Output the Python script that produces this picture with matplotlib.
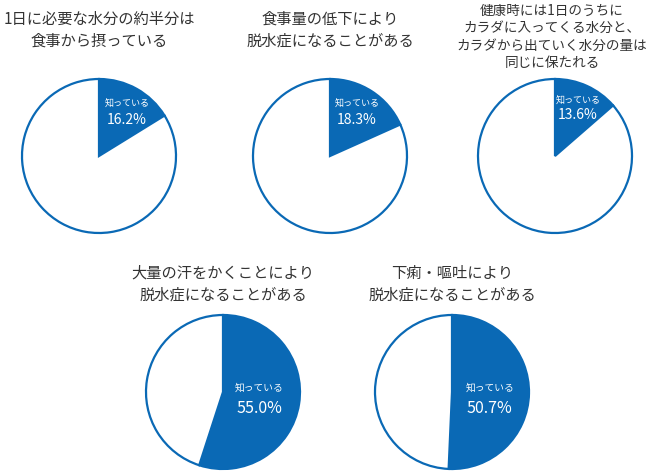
import matplotlib
matplotlib.use('Agg')
import matplotlib.pyplot as plt

plt.rcParams['font.family'] = ['Noto Sans CJK JP', 'DejaVu Sans']

titles = [
    '1日に必要な水分の約半分は\n食事から摂っている',
    '食事量の低下により\n脱水症になることがある',
    '健康時には1日のうちに\nカラダに入ってくる水分と、\nカラダから出ていく水分の量は\n同じに保たれる',
    '大量の汗をかくことにより\n脱水症になることがある',
    '下痢・嘔吐により\n脱水症になることがある',
]
known = [16.2, 18.3, 13.6, 55.0, 50.7]
wedge_label = '知っている'

BLUE = '#0a69b5'
W, H = 651, 475
R = 77
# pie centres (px), title anchor (px), title font size, label offset in pie units
centres = [(99, 156), (330, 156), (555, 156), (223, 392), (452, 392)]
title_pos = [(99, 30), (330, 30), (552, 37), (223, 284), (452, 284)]
title_size = [11, 11, 9.8, 11, 11]
title_spacing = [1.35, 1.35, 1.3, 1.35, 1.35]
label_off = [(0.36, 0.67, 0.47), (0.35, 0.67, 0.47), (0.30, 0.71, 0.53),
             (0.47, 0.05, -0.22), (0.49, 0.05, -0.22)]
label_size = [6.5, 6.5, 6.5, 7, 7]
pct_size = [10, 10, 10, 11.5, 11.5]

fig = plt.figure(figsize=(W / 100, H / 100), dpi=100)

for i, (cx, cy) in enumerate(centres):
    pad = 3
    ax = fig.add_axes([(cx - R - pad) / W, 1 - (cy + R + pad) / H,
                       2 * (R + pad) / W, 2 * (R + pad) / H])
    ax.pie([known[i], 100 - known[i]], colors=[BLUE, 'white'],
           startangle=90, counterclock=False, radius=1,
           wedgeprops=dict(edgecolor=BLUE, linewidth=1.6))
    lim = (R + pad) / R
    ax.set_xlim(-lim, lim)
    ax.set_ylim(-lim, lim)
    ax.set_aspect('equal')
    ax.axis('off')
    lx, ly1, ly2 = label_off[i]
    ax.text(lx, ly1, wedge_label, color='white', fontsize=label_size[i],
            ha='center', va='center')
    ax.text(lx, ly2, f'{known[i]:.1f}%', color='white', fontsize=pct_size[i],
            ha='center', va='center')

    tx, ty = title_pos[i]
    fig.text(tx / W, 1 - ty / H, titles[i], ha='center', va='center',
             fontsize=title_size[i], color='#333333',
             linespacing=title_spacing[i])

fig.savefig('out.png', dpi=100, facecolor='white')
